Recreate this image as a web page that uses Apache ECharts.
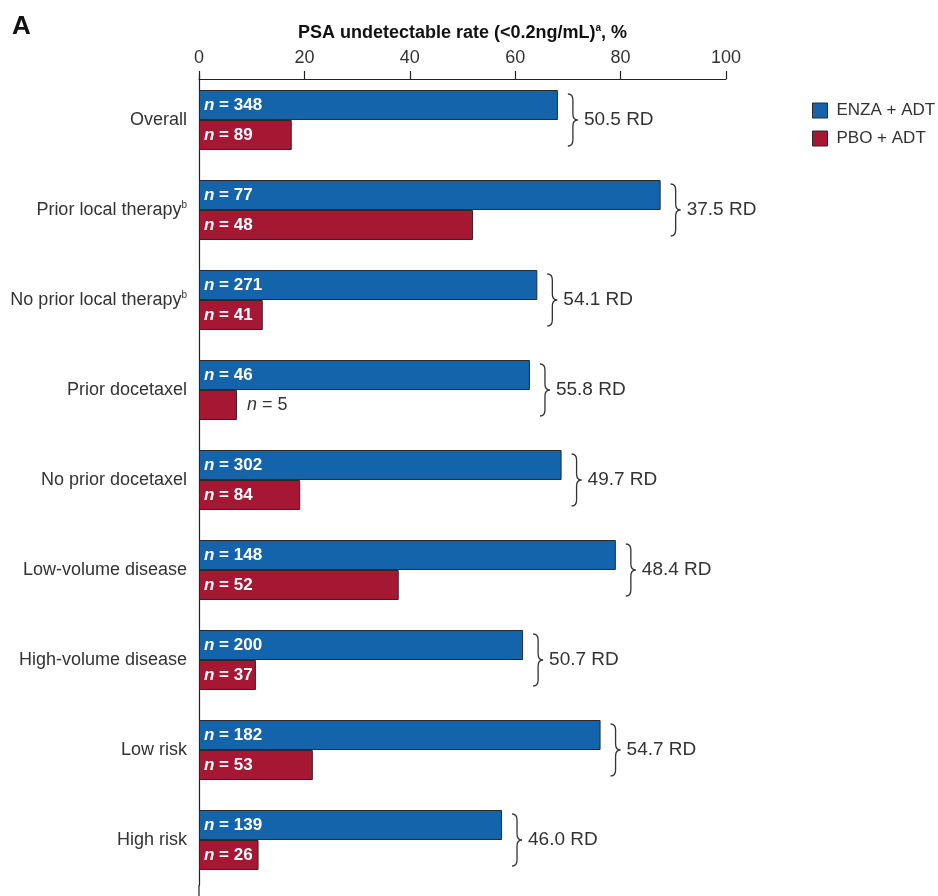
<!DOCTYPE html>
<html>
<head>
<meta charset="utf-8">
<script src="https://cdn.jsdelivr.net/npm/echarts@6/dist/echarts.min.js"></script>
<style>
  html, body { margin: 0; padding: 0; background: #fff; }
  #chart { width: 938px; height: 896px; }
</style>
</head>
<body>
<div id="chart"></div>
<script>
// Subgroups, top to bottom
const categories = [
  'Overall',
  'Prior local therapy',
  'No prior local therapy',
  'Prior docetaxel',
  'No prior docetaxel',
  'Low-volume disease',
  'High-volume disease',
  'Low risk',
  'High risk'
];
// Subgroups carrying footnote b
const footnoteB = [false, true, true, false, false, false, false, false, false];

// PSA undetectable rate, %
const enzaRate = [68.1, 87.6, 64.2, 62.8, 68.8, 79.1, 61.5, 76.2, 57.5];
const pboRate  = [17.6, 52.0, 12.1,  7.2, 19.2, 37.9, 10.8, 21.6, 11.3];

// Patients per arm
const enzaN = [348, 77, 271, 46, 302, 148, 200, 182, 139];
const pboN  = [89, 48, 41, 5, 84, 52, 37, 53, 26];

// Rate difference per subgroup
const rateDiff = ['50.5', '37.5', '54.1', '55.8', '49.7', '48.4', '50.7', '54.7', '46.0'];

// Axis ticks
const xTicks = { min: 0, max: 100, interval: 20 };

const FONT = '"Liberation Sans", Arial, Helvetica, sans-serif';
const BLUE = '#1464AC';
const RED = '#A51733';
const EDGE = '#2a2a2a';
const TEXT = '#333333';

const GRID = { left: 199, right: 212, top: 75, height: 810 };

const chart = echarts.init(document.getElementById('chart'), null, { renderer: 'canvas' });

function nLabel(n) { return '{i|n} = ' + n; }

const insideLabel = (nArr) => ({
  show: true,
  position: 'insideLeft',
  distance: 5,
  color: '#fff',
  fontFamily: FONT,
  fontSize: 17,
  fontWeight: 'bold',
  formatter: p => nLabel(nArr[p.dataIndex]),
  rich: { i: { fontStyle: 'italic', fontWeight: 'bold', color: '#fff', fontSize: 17, fontFamily: FONT } }
});

// Small bars whose count does not fit inside are labelled to the right
const pboData = pboRate.map((v, i) => {
  const item = { value: v };
  if (v < 10) {
    item.label = {
      position: 'right',
      distance: 10,
      color: TEXT,
      fontWeight: 'normal',
      fontSize: 18,
      rich: { i: { fontStyle: 'italic', color: TEXT, fontSize: 18, fontWeight: 'normal', fontFamily: FONT } }
    };
  }
  return item;
});

const option = {
  backgroundColor: '#fff',
  animation: false,
  textStyle: { fontFamily: FONT },
  graphic: [{
    type: 'text',
    left: 12,
    top: 14,
    style: { text: 'A', fontFamily: FONT, fontSize: 26, fontWeight: 'bold', fill: '#111' }
  }],
  legend: {
    orient: 'vertical',
    left: 812,
    top: 102,
    padding: 0,
    itemWidth: 15,
    itemHeight: 15,
    itemGap: 11,
    icon: 'rect',
    data: ['ENZA + ADT', 'PBO + ADT'],
    textStyle: { fontFamily: FONT, fontSize: 17, color: TEXT, padding: [0, 0, 0, 4] },
    itemStyle: { borderColor: EDGE, borderWidth: 1 }
  },
  grid: Object.assign({ containLabel: false }, GRID),
  xAxis: {
    type: 'value',
    position: 'top',
    offset: -4,
    min: xTicks.min,
    max: xTicks.max,
    interval: xTicks.interval,
    name: '{b|PSA undetectable rate (<0.2ng/mL)}{s|a}{b|, %}',
    nameLocation: 'middle',
    nameGap: 36,
    nameTextStyle: {
      rich: {
        b: { fontFamily: FONT, fontSize: 18, fontWeight: 'bold', color: '#111', lineHeight: 20 },
        s: { fontFamily: FONT, fontSize: 10, fontWeight: 'bold', color: '#111', verticalAlign: 'top', lineHeight: 20 }
      }
    },
    axisLine: { show: true, lineStyle: { color: '#222', width: 1.2 } },
    axisTick: { show: true, length: 8, lineStyle: { color: '#222', width: 1.2 } },
    axisLabel: { fontFamily: FONT, fontSize: 18, color: TEXT, margin: 12 },
    splitLine: { show: false }
  },
  yAxis: {
    type: 'category',
    inverse: true,
    data: categories,
    axisLine: { show: true, lineStyle: { color: '#222', width: 1.2 } },
    axisTick: { show: false },
    axisLabel: {
      fontFamily: FONT,
      fontSize: 18,
      color: TEXT,
      margin: 12,
      formatter: (v, i) => footnoteB[i] ? '{t|' + v + '}{s|b}' : '{t|' + v + '}',
      rich: {
        t: { fontFamily: FONT, fontSize: 18, color: TEXT, lineHeight: 20 },
        s: { fontFamily: FONT, fontSize: 10, color: TEXT, verticalAlign: 'top', lineHeight: 20 }
      }
    }
  },
  series: [
    {
      name: 'ENZA + ADT',
      type: 'bar',
      data: enzaRate,
      barWidth: 30,
      barGap: '0%',
      itemStyle: { color: BLUE, borderColor: EDGE, borderWidth: 1 },
      label: insideLabel(enzaN),
      z: 3
    },
    {
      name: 'PBO + ADT',
      type: 'bar',
      data: pboData,
      barWidth: 30,
      barGap: '0%',
      itemStyle: { color: RED, borderColor: EDGE, borderWidth: 1 },
      label: insideLabel(pboN),
      z: 3
    },
    {
      // Brace and rate-difference text to the right of each pair of bars
      name: 'RD',
      type: 'custom',
      silent: true,
      data: categories.map((c, i) => [Math.max(enzaRate[i], pboRate[i]), i]),
      encode: { x: 0, y: 1 },
      renderItem: (params, api) => {
        const pt = api.coord([api.value(0), api.value(1)]);
        const x0 = pt[0] + 10;
        const yc = pt[1];
        const h = 52, w = 10, r = 6;
        const top = yc - h / 2, bot = yc + h / 2, xm = x0 + w / 2;
        const d = [
          'M', x0, top,
          'Q', xm, top, xm, top + r,
          'L', xm, yc - r,
          'Q', xm, yc, x0 + w, yc,
          'Q', xm, yc, xm, yc + r,
          'L', xm, bot - r,
          'Q', xm, bot, x0, bot
        ].join(' ');
        return {
          type: 'group',
          children: [
            {
              type: 'path',
              shape: { pathData: d },
              style: { fill: 'none', stroke: '#333', lineWidth: 1.3 }
            },
            {
              type: 'text',
              x: x0 + w + 6,
              y: yc,
              style: {
                text: rateDiff[params.dataIndex] + ' RD',
                fontFamily: FONT,
                fontSize: 19,
                fill: TEXT,
                verticalAlign: 'middle',
                align: 'left'
              }
            }
          ]
        };
      },
      z: 4
    }
  ]
};

chart.setOption(option);

// Carry the category axis line on down to the bottom edge of the page
const axisX = chart.convertToPixel({ xAxisIndex: 0 }, 0);
const gridBottom = GRID.top + GRID.height;
chart.setOption({
  graphic: [
    option.graphic[0],
    {
      type: 'line',
      shape: { x1: axisX, y1: gridBottom, x2: axisX, y2: chart.getHeight() },
      style: { stroke: '#222', lineWidth: 1.2 },
      silent: true
    }
  ]
});
</script>
</body>
</html>
